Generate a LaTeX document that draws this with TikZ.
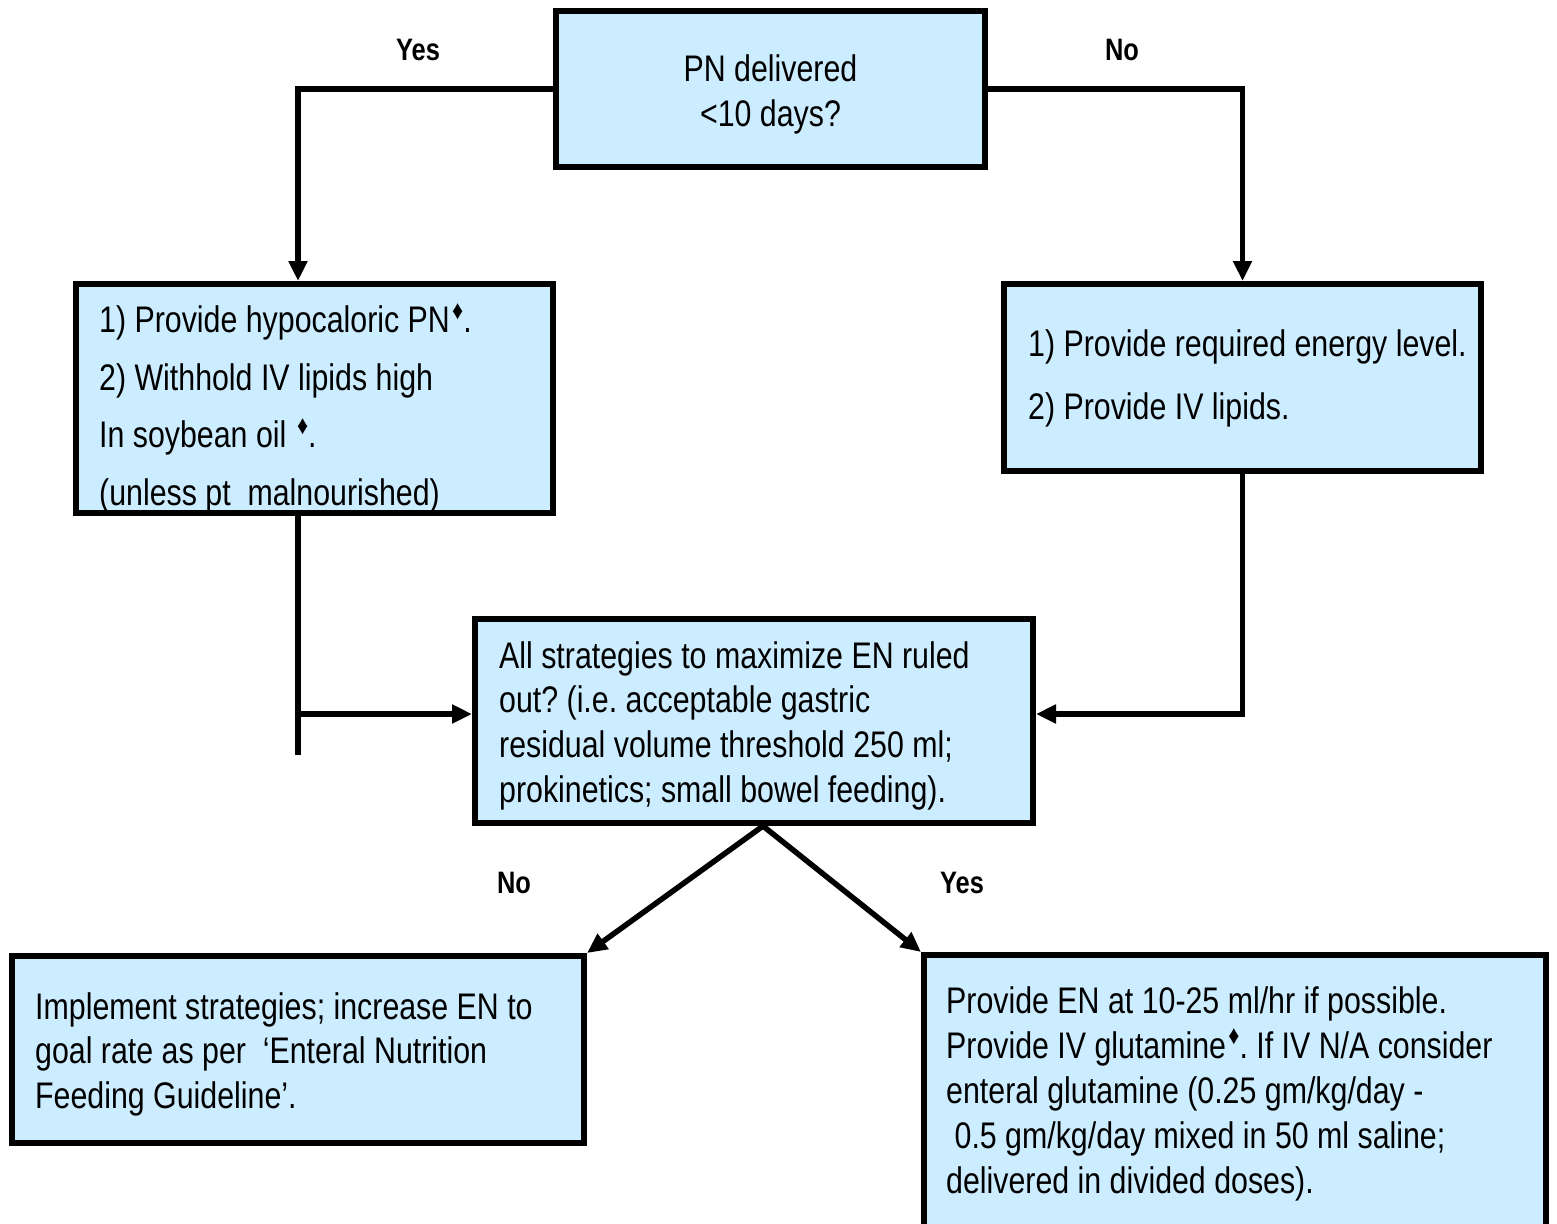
\documentclass[tikz,border=0pt]{standalone}
\usepackage{fontspec}
\setmainfont{Liberation Sans}[FakeStretch=0.82]
\usetikzlibrary{arrows.meta}
\definecolor{boxblue}{HTML}{CCECFF}
\newcommand{\dmd}{\hspace{0.06em}\raisebox{0.36em}{\scalebox{0.72}{♦}}}
\frenchspacing
\begin{document}
\begin{tikzpicture}[x=1pt,y=-1pt,
  box/.style={draw, line width=6pt, fill=boxblue, inner sep=0pt, rectangle},
  txt/.style={inner sep=0pt, align=left, anchor=north west},
  lbl/.style={font=\fontsize{31}{36}\selectfont\bfseries, inner sep=0pt},
  conn/.style={line width=5.5pt},
  arr/.style={line width=5.5pt, -{Triangle[length=20pt,width=18pt]}}]
\clip (0,0) rectangle (1557,1223);
\fill[white] (0,0) rectangle (1557,1223);

% boxes
\node[box, minimum width=429pt, minimum height=156pt] (top) at (770.5,89) {};
\node[box, minimum width=477pt, minimum height=229pt] (left) at (314.5,398.5) {};
\node[box, minimum width=477pt, minimum height=187pt] (right) at (1242.5,377.5) {};
\node[box, minimum width=558pt, minimum height=204pt] (mid) at (754,721) {};
\node[box, minimum width=572pt, minimum height=187pt] (bl) at (298,1049.5) {};
\node[box, minimum width=622pt, minimum height=290pt] (br) at (1235,1100) {};

% texts
\node[inner sep=0pt, align=center, font=\fontsize{37}{45}\selectfont] (ttop) at (770.5,94) {PN delivered\\<10 days?};
\node[txt, font=\fontsize{37}{57.7}\selectfont] (tleft) at (99,303) {1) Provide hypocaloric PN\dmd.\\2) Withhold IV lipids high\\In soybean oil \dmd.\\(unless pt\ \ malnourished)};
\node[txt, font=\fontsize{37}{63}\selectfont] (tright) at (1028,329) {1) Provide required energy level.\\2) Provide IV lipids.};
\node[txt, font=\fontsize{37}{44.7}\selectfont] (tmid) at (499,641) {All strategies to maximize EN ruled\\out? (i.e. acceptable gastric\\residual volume threshold 250 ml;\\prokinetics; small bowel feeding).};
\node[txt, font=\fontsize{37}{44.5}\selectfont] (tbl) at (35,992) {Implement strategies; increase EN to\\goal rate as per\ \ ‘Enteral Nutrition\\Feeding Guideline’.};
\node[txt, font=\fontsize{37}{45}\selectfont] (tbr) at (946,986) {Provide EN at 10-25 ml/hr if possible.\\Provide IV glutamine\dmd. If IV N/A consider\\enteral glutamine (0.25 gm/kg/day -\\\ 0.5 gm/kg/day mixed in 50 ml saline;\\delivered in divided doses).};

% labels
\node[lbl] (lyes1) at (418,50) {Yes};
\node[lbl] (lno1) at (1122,50) {No};
\node[lbl] (lno2) at (514,883) {No};
\node[lbl] (lyes2) at (962,883) {Yes};

% connectors
\coordinate (lend) at (298,755);
\coordinate (midw) at ([yshift=7pt]mid.west);
\coordinate (mide) at ([yshift=7pt]mid.east);
\coordinate (mids) at ([xshift=9pt]mid.south);
\draw[arr] (top.west) -| ([xshift=-16.5pt]left.north);
\draw[arr] (top.east) -| (right.north);
\draw[conn] (left.south -| lend) -- (lend);
\draw[arr] (lend |- midw) -- (midw);
\draw[arr] (right.south) |- (mide);
\draw[arr] (mids) -- (bl.north east);
\draw[arr] (mids) -- (br.north west);
\end{tikzpicture}
\end{document}
